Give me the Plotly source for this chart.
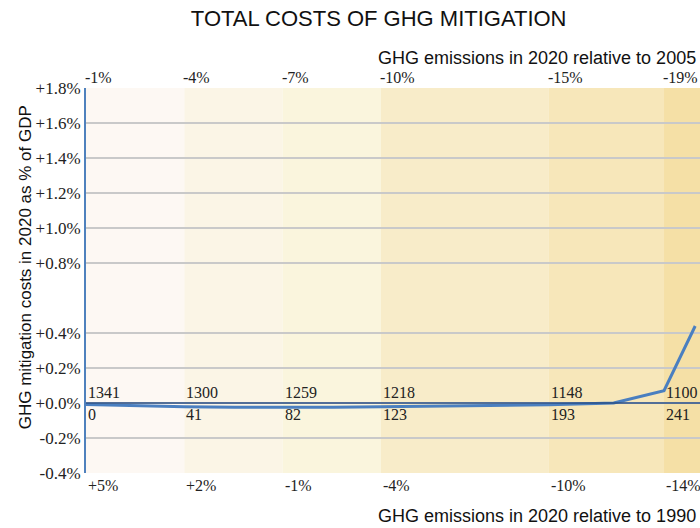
import plotly.graph_objects as go

# emissions reduction (Mt) vs mitigation cost (% of GDP)
reduction = [0, 20, 41, 62, 82, 103, 123, 158, 193, 220, 241, 254]
cost = [-0.008, -0.015, -0.022, -0.024, -0.026, -0.024, -0.022, -0.016, -0.01, 0.0, 0.07, 0.44]

# labelled steps
step_x = [0, 41, 82, 123, 193, 241]
emissions_lvl = ["1341", "1300", "1259", "1218", "1148", "1100"]
rel_2005 = ["-1%", "-4%", "-7%", "-10%", "-15%", "-19%"]
rel_1990 = ["+5%", "+2%", "-1%", "-4%", "-10%", "-14%"]

band_edges = [0, 41, 82, 123, 193, 241, 256]
band_colors = ["#fdf8f3", "#fbf5e6", "#faf5dd", "#f8ecc9", "#f7e7ba", "#f5e0a6"]

y_ticks = [1.8, 1.6, 1.4, 1.2, 1.0, 0.8, 0.4, 0.2, 0.0, -0.2, -0.4]
y_text = ["+1.8%", "+1.6%", "+1.4%", "+1.2%", "+1.0%", "+0.8%", "+0.4%", "+0.2%", "+0.0%", "-0.2%", "-0.4%"]

serif = "Liberation Serif"
sans = "Liberation Sans"

fig = go.Figure()

# background bands
for i, c in enumerate(band_colors):
    fig.add_shape(type="rect", xref="x", yref="paper", x0=band_edges[i], x1=band_edges[i + 1],
                  y0=0, y1=1, fillcolor=c, line_width=0, layer="below")

# zero line
fig.add_shape(type="line", xref="paper", yref="y", x0=0, x1=1, y0=0, y1=0,
              line=dict(color="#2a4f86", width=1.5))

fig.add_trace(go.Scatter(x=reduction, y=cost, mode="lines",
                         line=dict(color="#4a7fc0", width=3), showlegend=False))

# step labels
for x, top, bot in zip(step_x, emissions_lvl, step_x):
    fig.add_annotation(x=x, y=0, text=top, showarrow=False, xanchor="left", yanchor="bottom",
                       yshift=0, font=dict(family=serif, size=16, color="#222"))
    fig.add_annotation(x=x, y=0, text=str(bot), showarrow=False, xanchor="left", yanchor="top",
                       yshift=-1, font=dict(family=serif, size=16, color="#222"))

# top and bottom axis labels
for x, t, b in zip(step_x, rel_2005, rel_1990):
    fig.add_annotation(x=x, y=1, yref="paper", text=t, showarrow=False, xanchor="left",
                       yanchor="bottom", xshift=-3, yshift=0, font=dict(family=serif, size=16, color="#222"))
    fig.add_annotation(x=x, y=0, yref="paper", text=b, showarrow=False, xanchor="left",
                       yanchor="top", yshift=-2, font=dict(family=serif, size=16, color="#222"))

fig.add_annotation(x=0.996, y=1, xref="paper", yref="paper", text="GHG emissions in 2020 relative to 2005",
                   showarrow=False, xanchor="right", yanchor="bottom", yshift=18,
                   font=dict(family=sans, size=18, color="#111"))
fig.add_annotation(x=0.996, y=0, xref="paper", yref="paper", text="GHG emissions in 2020 relative to 1990",
                   showarrow=False, xanchor="right", yanchor="top", yshift=-31,
                   font=dict(family=sans, size=18, color="#111"))

# y axis title
fig.add_annotation(x=-0.099, y=0.535, xref="paper", yref="paper", textangle=-90,
                   text="GHG mitigation costs in 2020 as % of GDP", showarrow=False,
                   xanchor="center", yanchor="middle", font=dict(family=sans, size=17, color="#111"))

fig.update_layout(
    width=700, height=528,
    margin=dict(l=86, r=0, t=88, b=55),
    paper_bgcolor="white", plot_bgcolor="white",
    title=dict(text="TOTAL COSTS OF GHG MITIGATION", x=0.541, xanchor="center", y=0.98, yanchor="top",
               font=dict(family=sans, size=22, color="#111")),
)
fig.update_xaxes(range=[0, 256], showticklabels=False, showgrid=False, zeroline=False,
                 showline=False, ticks="")
fig.update_yaxes(range=[-0.4, 1.8], tickvals=y_ticks, ticktext=y_text,
                 tickfont=dict(family=serif, size=17, color="#222"), ticklabelstandoff=0,
                 showgrid=True, gridcolor="#c9c9c9", gridwidth=1.5, zeroline=False,
                 showline=True, linecolor="#4f81bd", linewidth=2, ticks="")

fig.write_html("out.html", config={"displayModeBar": False},
               post_script="document.body.style.margin='0';document.body.style.overflow='hidden';")
